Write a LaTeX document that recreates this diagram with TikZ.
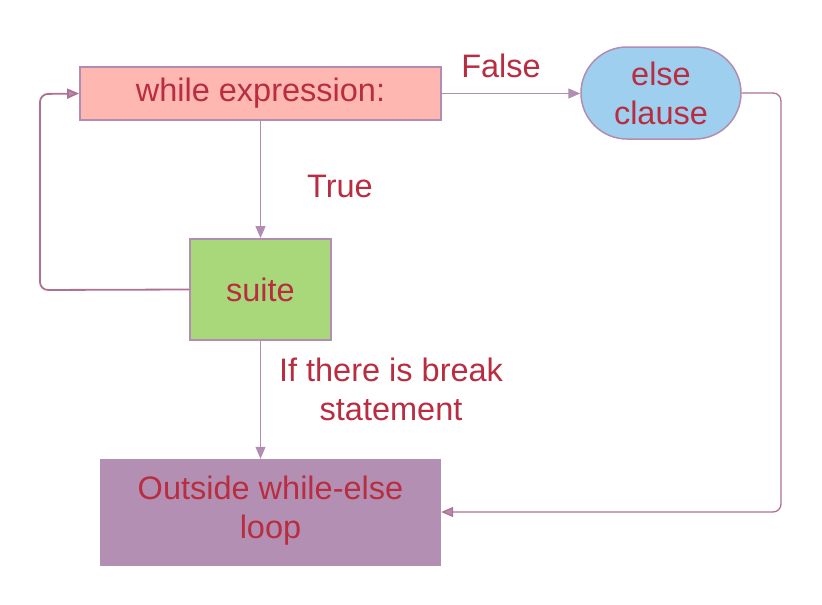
\documentclass[tikz,border=0pt]{standalone}
\usepackage{fontspec}
\setmainfont{Liberation Sans}
\usetikzlibrary{arrows.meta,shapes.misc}
\definecolor{txt}{RGB}{185,45,65}
\definecolor{edge}{RGB}{178,140,178}
\definecolor{loopc}{RGB}{176,112,145}
\definecolor{pinkf}{RGB}{255,183,178}
\definecolor{bluef}{RGB}{158,207,239}
\definecolor{greenf}{RGB}{168,216,122}
\definecolor{purplef}{RGB}{179,144,179}
\tikzset{
  lbl/.style={text=txt,font=\fontsize{32.5}{39}\selectfont,align=center,inner sep=0pt},
  boxnode/.style={lbl,draw=edge,line width=1.8pt,minimum width=#1},
  conn/.style={draw=edge,line width=1.1pt,-{Triangle[length=12pt,width=10pt]}},
  loopconn/.style={draw=loopc,line width=1.8pt,rounded corners=8pt,-{Triangle[length=12pt,width=10pt,fill=edge]}},
}
\begin{document}
\begin{tikzpicture}[x=1pt,y=-1pt]
\useasboundingbox (0,0) rectangle (822,605);
\node[boxnode=361pt,fill=pinkf,minimum height=53pt] (w) at (260.5,93.5) {while expression:};
\node[lbl,draw=edge,line width=1.5pt,fill=bluef,rounded rectangle,minimum width=160pt,minimum height=92pt] (e) at (661,93) {else\\clause};
\node[boxnode=141pt,fill=greenf,minimum height=101pt] (s) at (260.5,289.5) {suite};
\node[lbl,fill=purplef,minimum width=341pt,minimum height=107pt,text depth=10pt] (o) at (270.5,512.5) {Outside while-else\\loop};
\node[lbl] (lf) at (501,66) {False};
\node[lbl] (lt) at (340,186) {True};
\node[lbl] (lb) at (391,389) {If there is break\\statement};
\coordinate (c1) at (40,290);
\coordinate (c2) at (40,94);
\coordinate (c3) at (781,93);
\coordinate (c4) at (781,512);
\draw[conn] (w.east) -- (w.east -| e.west);
\draw[conn] (w.south) -- (s.north);
\draw[conn] (s.south) -- (s.south |- o.north);
\draw[loopconn] (s.west) -- (c1) -- (c2) -- (w.west);
\draw[loopconn,line width=1.3pt] (e.east |- c3) -- (c3) -- (c4) -- (o.east |- c4);
\end{tikzpicture}
\end{document}
